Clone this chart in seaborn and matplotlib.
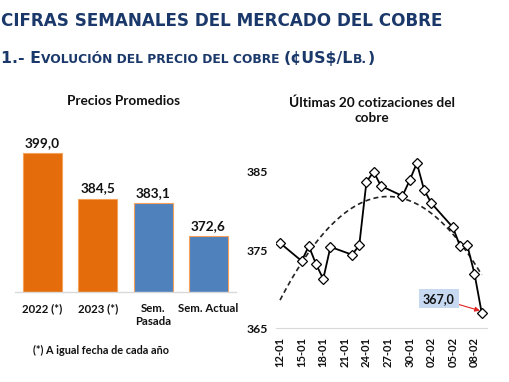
import numpy as np
import pandas as pd
import matplotlib
matplotlib.use("Agg")
import matplotlib.pyplot as plt
import matplotlib.dates as mdates
import seaborn as sns

# ---------------- data ----------------
bar_categories = ["2022 (*)", "2023 (*)", "Sem.\nPasada", "Sem. Actual"]
bar_values = [399.0, 384.5, 383.1, 372.6]
bar_colors = ["#E46C0A", "#E46C0A", "#4F81BD", "#4F81BD"]

quote_dates = ["2024-01-12", "2024-01-15", "2024-01-16", "2024-01-17", "2024-01-18",
               "2024-01-19", "2024-01-22", "2024-01-23", "2024-01-24", "2024-01-25",
               "2024-01-26", "2024-01-29", "2024-01-30", "2024-01-31", "2024-02-01",
               "2024-02-02", "2024-02-05", "2024-02-06", "2024-02-07", "2024-02-08",
               "2024-02-09"]
quote_values = [375.9, 373.6, 375.5, 373.2, 371.3, 375.4, 374.4, 375.6, 383.7, 385.0,
                383.2, 381.9, 383.9, 386.1, 382.7, 381.0, 377.9, 375.5, 375.6, 372.0,
                367.0]
line_tick_dates = ["2024-01-12", "2024-01-15", "2024-01-18", "2024-01-21", "2024-01-24",
                   "2024-01-27", "2024-01-30", "2024-02-02", "2024-02-05", "2024-02-08"]
line_tick_labels = ["12-01", "15-01", "18-01", "21-01", "24-01", "27-01", "30-01",
                    "02-02", "05-02", "08-02"]
y_ticks_line = [365, 375, 385]

header_title = "CIFRAS SEMANALES DEL MERCADO DEL COBRE"
bar_title = "Precios Promedios"
line_title = "Últimas 20 cotizaciones del\ncobre"
footnote = "(*) A igual fecha de cada año"
last_label = "367,0"

# ---------------- style ----------------
sns.set_style("white")
plt.rcParams["font.family"] = ["Lato", "DejaVu Sans"]
NAVY = "#1A386A"
W, H = 510, 382
fig = plt.figure(figsize=(W / 100, H / 100), dpi=100)
fig.patch.set_facecolor("white")


def fx(px):
    return px / W


def fy(py):
    return 1 - py / H


# ---------------- bar chart ----------------
ax1 = fig.add_axes([fx(15), fy(291.7), fx(221), 157.7 / H])
bdf = pd.DataFrame({"cat": bar_categories, "val": bar_values})
sns.barplot(data=bdf, x="cat", y="val", hue="cat", palette=bar_colors,
            legend=False, width=0.71, ax=ax1, saturation=1,
            edgecolor=["#F5A15A", "#F5A15A", "#8DB0DA", "#8DB0DA"], linewidth=0.8)
ax1.set_ylim(355, 405)
ax1.set_xlim(-0.5, 3.5)
for c in ax1.containers:
    ax1.bar_label(c, labels=[f"{v:.1f}".replace(".", ",") for v in c.datavalues],
                  padding=3, fontsize=9.8, fontweight="bold", color="#111111")
ax1.set_xlabel("")
ax1.set_ylabel("")
ax1.set_yticks([])
ax1.tick_params(axis="x", length=0, pad=8)
for lab in ax1.get_xticklabels():
    lab.set_fontweight("bold")
    lab.set_fontsize(8.2)
    lab.set_color("#111111")
    lab.set_linespacing(1.2)
for s in ["left", "right", "top"]:
    ax1.spines[s].set_visible(False)
ax1.spines["bottom"].set_color("#D9D9D9")
ax1.spines["bottom"].set_linewidth(1.0)
ax1.set_facecolor("none")

fig.text(fx(124), fy(100.7), bar_title, ha="center", va="center",
         fontsize=9.8, fontweight="bold", color="#111111")
fig.text(fx(33), fy(350), footnote, ha="left", va="center",
         fontsize=7.8, fontweight="bold", color="#111111")

# ---------------- line chart ----------------
ldf = pd.DataFrame({"date": pd.to_datetime(quote_dates), "val": quote_values})
d0 = ldf["date"].iloc[0]
days = (ldf["date"] - d0).dt.days.to_numpy(dtype=float)
coef = np.polyfit(days, ldf["val"].to_numpy(), 2)
tdays = np.linspace(days.min(), days.max(), 200)
tdf = pd.DataFrame({"date": d0 + pd.to_timedelta(tdays, unit="D"),
                    "val": np.polyval(coef, tdays)})

ax2 = fig.add_axes([fx(276), fy(328.3), fx(210.7), 195.7 / H])
sns.lineplot(data=tdf, x="date", y="val", color="#222222", linewidth=1.2,
             linestyle=(0, (3, 2)), ax=ax2)
sns.lineplot(data=ldf, x="date", y="val", color="black", linewidth=1.3,
             marker="D", markersize=5.5, markerfacecolor="white",
             markeredgecolor="black", markeredgewidth=0.9, ax=ax2)
x0 = mdates.date2num(d0)
ax2.set_xlim(x0 - 0.56, x0 + 28.7)
ax2.set_ylim(365, 390)
ax2.set_xticks(mdates.date2num(pd.to_datetime(line_tick_dates)))
ax2.set_xticklabels(line_tick_labels, rotation=90, fontsize=8, fontweight="bold",
                    color="#111111")
ax2.set_yticks(y_ticks_line)
ax2.set_yticklabels([str(v) for v in y_ticks_line], fontsize=8.8, fontweight="bold",
                    color="#111111")
ax2.tick_params(axis="y", length=0, pad=6)
ax2.tick_params(axis="x", length=3, width=0.8, color="#D9D9D9", pad=3, direction="out")
ax2.set_xlabel("")
ax2.set_ylabel("")
for s in ["left", "right", "top"]:
    ax2.spines[s].set_visible(False)
ax2.spines["bottom"].set_color("#D9D9D9")
ax2.set_facecolor("none")

lx = ldf["date"].iloc[-1]
ly = ldf["val"].iloc[-1]
ax2.annotate(last_label, xy=(mdates.date2num(lx) - 0.25, ly + 0.25),
             xytext=(-29.5, 8.7), textcoords="offset points",
             ha="center", va="center", fontsize=9, fontweight="bold", color="#111111",
             bbox=dict(boxstyle="square,pad=0.3", fc="#C6D9F1", ec="none"),
             arrowprops=dict(arrowstyle="-|>", color="#E02020", lw=0.8,
                             mutation_scale=7, shrinkA=0, shrinkB=0))

fig.text(fx(371.7), fy(110.3), line_title, ha="center", va="center",
         fontsize=9.8, fontweight="bold", color="#111111", linespacing=1.3)

# ---------------- headers ----------------
renderer = fig.canvas.get_renderer()

t = fig.text(fx(1), fy(26), header_title, ha="left", va="baseline",
             fontsize=12, fontweight="bold", family="DejaVu Sans", color=NAVY)
wpx = t.get_window_extent(renderer).width
t.set_fontsize(12 * 442 / wpx)

pieces = [("1.- E", True), ("VOLUCIÓN DEL PRECIO DEL COBRE ", False),
          ("(¢US$/L", True), ("B.", False), (")", True)]


def draw_sub(big):
    arts = []
    x = fx(1)
    for txt, is_big in pieces:
        a = fig.text(x, fy(63.3), txt, ha="left", va="baseline",
                     fontsize=big if is_big else big * 0.78, fontweight="bold",
                     family="DejaVu Sans", color=NAVY)
        ext = a.get_window_extent(renderer)
        x = ext.x1 / W
        arts.append(a)
    return arts, x * W


arts, xend = draw_sub(11)
for a in arts:
    a.remove()
big = 11 * (372 - 1) / (xend - 1)
draw_sub(big)

fig.savefig("out.png", dpi=100, facecolor="white")
